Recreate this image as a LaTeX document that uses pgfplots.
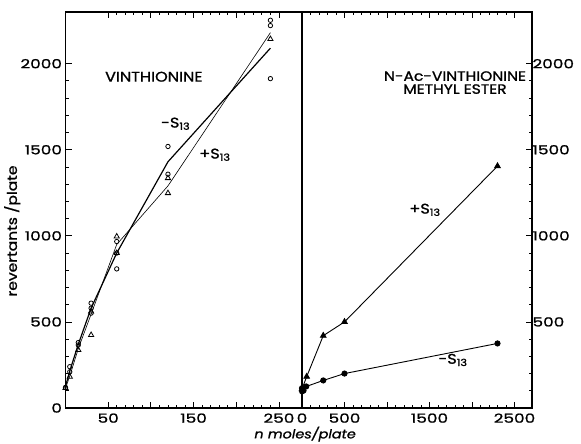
\documentclass[border=0pt]{standalone}
\usepackage{pgfplots}
\pgfplotsset{compat=1.18}
\usepackage{fontspec}
\setmainfont{Poppins}[FakeStretch=1.15, FakeBold=1.2]
\newfontfamily\tickfont{Poppins}[FakeStretch=1.35, FakeBold=1.2]

% left panel: vinthionine, open marks
\pgfplotstableread{
x y
0 120
5 240
5 210
15 380
15 366
30 609
30 580
30 551
60 967
60 900
60 808
120 1519
120 1358
240 2252
240 2221
240 1913
}\minuspts
\pgfplotstableread{
x y
0 116
5 182
15 337
30 424
30 560
60 996
60 900
120 1335
120 1248
240 2143
}\pluspts

\begin{document}
\begin{tikzpicture}
\useasboundingbox (0pt,0pt) rectangle (581pt,444pt);
\pgfplotsset{panel/.style={
  scale only axis, height=396pt, anchor=origin,
  ymin=0, ymax=2300,
  minor y tick num=4,
  tick align=inside, major tick length=6pt, minor tick length=3pt,
  axis line style={line width=1.1pt},
  tick style={black, line width=0.8pt},
  ticklabel style={font=\tickfont\fontsize{12.5}{13}\selectfont},
  /pgf/number format/assume math mode=true,
  /pgf/number format/set thousands separator={},
  xticklabel style={yshift=-2pt},
  clip=false,
}}
\begin{axis}[panel, at={(65.5pt,36pt)}, width=236.5pt,
  xmin=0, xmax=277,
  xtick={50,100,150,200,250}, xticklabels={50,,150,,250},
  minor x tick num=4,
  ytick={0,500,...,2000}, ytick pos=left,
  ylabel={revertants /plate},
  ylabel style={at={(axis description cs:-0.225,0.447)}, anchor=center, font=\fontsize{13.5}{14}\selectfont},
  xlabel={\itshape n moles/plate},
  xlabel style={at={(axis description cs:1.013,-0.066)}, anchor=center, font=\fontsize{12.5}{13}\selectfont},
]
\addplot[black, line width=1.2pt] coordinates {(0,125)(5,215)(15,370)(30,580)(60,900)(120,1430)(240,2090)};
\addplot[black, line width=0.6pt] coordinates {(0,115)(5,185)(15,345)(30,545)(60,950)(120,1290)(240,2180)};
\addplot[only marks, mark=o, mark size=2.2pt, black, thick] table {\minuspts};
\addplot[only marks, mark=triangle, mark size=3pt, black, thick] table {\pluspts};
\node[font=\fontsize{14}{14}\selectfont] at (axis cs:103.5,1924) {VINTHIONINE};
\node[font=\fontsize{14}{14}\selectfont] at (axis cs:129,1651) {-S\textsubscript{13}};
\node[font=\fontsize{14}{14}\selectfont] at (axis cs:175,1471) {+S\textsubscript{13}};
\end{axis}
\begin{axis}[panel, at={(302pt,36pt)}, width=230pt,
  xmin=0, xmax=2706,
  xtick={0,500,...,2500}, xticklabels={0,500,,1500,,2500},
  minor x tick num=4,
  ytick={0,500,...,2000}, yticklabels={,500,1000,1500,2000},
  ytick pos=right, yticklabel pos=right,
  yticklabel style={xshift=-3pt},
]
\addplot[black, line width=0.9pt, mark=triangle*, mark size=3.2pt] coordinates {(0,110)(55,182)(250,420)(500,500)(2300,1405)};
\addplot[black, line width=0.9pt, mark=*, mark size=2.6pt] coordinates {(0,115)(50,125)(250,160)(500,200)(2300,375)};
\addplot[only marks, black, mark=*, mark size=2.6pt] coordinates {(0,95)(20,100)};
\node[font=\fontsize{13.5}{14}\selectfont, align=center] at (axis cs:1800,1890) {N-Ac-VINTHIONINE\\[-1pt]METHYL ESTER};
\node[font=\fontsize{14}{14}\selectfont] at (axis cs:1447,1151) {+S\textsubscript{13}};
\node[font=\fontsize{14}{14}\selectfont] at (axis cs:1776,279) {-S\textsubscript{13}};
\end{axis}
\end{tikzpicture}
\end{document}
